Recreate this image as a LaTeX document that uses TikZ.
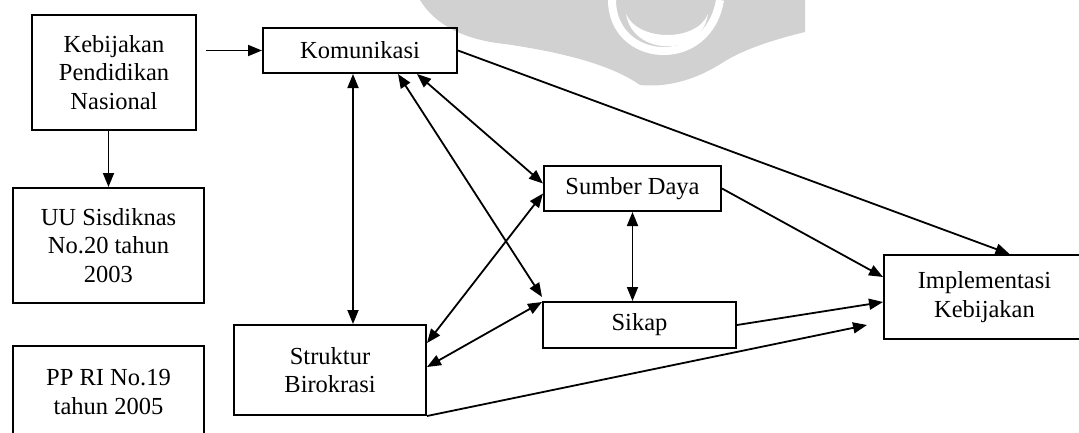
\documentclass[tikz,border=0pt]{standalone}
\usepackage{fontspec}
\setmainfont{Liberation Serif}
\usetikzlibrary{arrows.meta,calc}
\begin{document}
\begin{tikzpicture}[x=1pt,y=-1pt,
  box/.style={draw=black, line width=2pt, align=center, inner sep=0pt,
    font=\fontsize{24.5}{28.5}\selectfont},
  conn/.style={line width=1.8pt, draw=black},
  arr/.style={conn, -{Triangle[length=14pt,width=11pt]}},
  darr/.style={conn, {Triangle[length=14pt,width=11pt]}-{Triangle[length=14pt,width=11pt]}},
  wm/.style={fill=black!18}]
\useasboundingbox (0,0) rectangle (1079,432);
\clip (0,0) rectangle (1079,432);
% watermark
\fill[wm] (420,0) .. controls (435,25) and (465,40) .. (505,44)
  .. controls (560,52) and (610,64) .. (640,85)
  .. controls (672,88) and (700,77) .. (722,63)
  .. controls (742,50) and (772,40) .. (805,32) -- (805,0) -- cycle;
\draw[white, line width=8pt] (612,0) .. controls (612,64) and (708,72) .. (720,0);
\fill[white] (626,14) .. controls (633,57) and (702,57) .. (708,14)
  .. controls (697,42) and (638,42) .. cycle;
% boxes
\node[box, minimum width=164, minimum height=115] (keb) at (114,72.5) {Kebijakan\\Pendidikan\\Nasional};
\node[box, minimum width=194, minimum height=45] (kom) at (360,50.5) {Komunikasi};
\node[box, minimum width=191, minimum height=115] (uu) at (108.5,245.5) {UU Sisdiknas\\No.20 tahun\\2003};
\node[box, minimum width=191, minimum height=92] (pp) at (108.5,392) {PP RI No.19\\tahun 2005};
\node[box, minimum width=192, minimum height=90] (str) at (330,370) {Struktur\\Birokrasi};
\node[box, minimum width=177, minimum height=45] (sd) at (632.5,188.5) {Sumber Daya};
\node[box, minimum width=193, minimum height=46] (sk) at (639.5,325) {Sikap};
\node[box, minimum width=201, minimum height=84] (imp) at (984.5,297) {Implementasi\\Kebijakan};
\coordinate (e8) at ([xshift=-16pt,yshift=-28pt]imp.west);
% connectors
\draw[arr, shorten <=9pt] (keb.east |- kom.west) -- (kom.west);
\draw[arr] (uu.north |- keb.south) -- (uu.north);
\draw[darr] ([xshift=-7pt]kom.south) -- ([xshift=23pt]str.north);
\draw[darr] (sd.south) -- (sk.north -| sd.south);
\draw[arr] (kom.east) -- ([xshift=25pt]imp.north);
\draw[arr] (sd.east) -- ([yshift=20pt]imp.west);
\draw[arr] (sk.east) -- ([yshift=-5pt]imp.west);
\draw[arr] (str.south east) -- (e8);
\draw[darr] ([xshift=38pt]kom.south) -- ([yshift=4pt]sk.north west);
\draw[darr] ([xshift=57pt]kom.south) -- ([yshift=5pt]sd.west);
\draw[darr] ([yshift=27pt]str.east) -- ([yshift=-5pt]sd.west);
\draw[darr] ([yshift=3pt]str.east) -- ([yshift=-1pt]sk.north west);
\end{tikzpicture}
\end{document}
